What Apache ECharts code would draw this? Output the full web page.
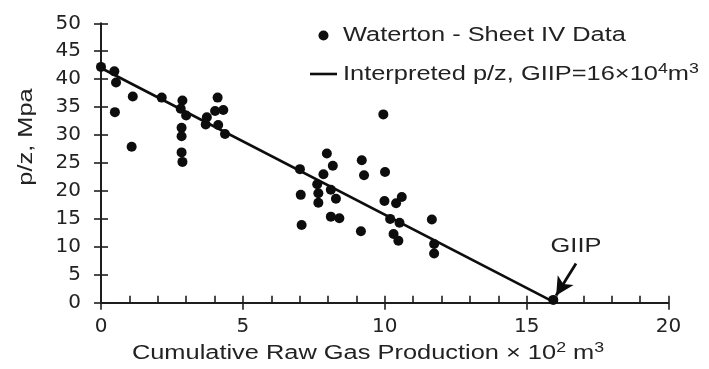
<!DOCTYPE html>
<html>
<head>
<meta charset="utf-8">
<script src="https://cdn.jsdelivr.net/npm/echarts@6/dist/echarts.min.js"></script>
<style>
  html, body { margin: 0; padding: 0; background: #fff; }
  #chart { width: 709px; height: 369px; }
</style>
</head>
<body>
<div id="chart"></div>
<script>
// Waterton Sheet IV measurements: cumulative raw gas production (x 10^2 m^3) and p/z (MPa)
const production = [
  0.00, 0.47, 0.53, 0.49, 1.12, 1.08, 2.14, 2.87, 2.81, 3.00,
  2.84, 2.84, 2.84, 2.87, 3.73, 3.69, 4.11, 4.02, 4.31, 4.13,
  4.37, 7.01, 7.04, 7.07, 9.95, 7.96, 8.17, 7.84, 9.19, 9.27,
  10.01, 7.62, 7.66, 7.66, 8.10, 8.28, 8.10, 8.40, 9.16, 9.99,
  10.40, 10.60, 10.19, 10.52, 10.31, 10.48, 11.66, 11.74, 11.74, 15.94
];
const pressure = [
  42.2, 41.4, 39.4, 34.1, 36.9, 27.9, 36.7, 36.2, 34.7, 33.5,
  31.3, 29.8, 26.9, 25.2, 33.2, 31.9, 36.7, 34.3, 34.5, 31.8,
  30.2, 23.9, 19.3, 13.9, 33.7, 26.7, 24.5, 23.0, 25.5, 22.8,
  23.4, 21.2, 19.6, 17.9, 20.2, 18.6, 15.4, 15.1, 12.8, 18.2,
  17.8, 18.9, 15.0, 14.3, 12.3, 11.1, 14.9, 10.5, 8.8, 0.5
];

// Interpreted straight-line p/z trend, reaching zero at GIIP = 16
const trendX = [0, 16];
const trendY = [42, 0];

// GIIP call-out: label anchor and arrow (start, tip) in data units
const giipLabel = [16.74, 10.0];
const giipArrow = [[16.74, 7.0], [16.04, 1.3]];

// Axis ranges
const xRange = { min: 0, max: 20, interval: 5 };
const yRange = { min: 0, max: 50, interval: 5 };

const seriesNames = ['Waterton - Sheet IV Data', 'Interpreted p/z'];

const TICK_FONT = 'DejaVu Sans';
const TEXT_FONT = 'Liberation Sans';
const WIDE = 1.27;            // horizontal stretch of the wide caption lettering
const INK = '#222';
const MARK = '#0d0d0d';
const AXIS = '#1e1e1e';

const points = production.map((x, i) => [x, pressure[i]]);
const trend = trendX.map((x, i) => [x, trendY[i]]);

const chart = echarts.init(document.getElementById('chart'), null, { renderer: 'canvas' });

const baseAxis = {
  type: 'value',
  splitLine: { show: false },
  axisLine: { show: true, onZero: false, lineStyle: { color: AXIS, width: 2 } }
};

const richText = {
  n: { fontFamily: TEXT_FONT, fontSize: 20, fill: INK, lineHeight: 24 },
  sup: { fontFamily: TEXT_FONT, fontSize: 14, fill: INK, lineHeight: 24, verticalAlign: 'top' }
};

function caption(id, x, y, text, align, extra) {
  return Object.assign({
    type: 'text', id: id, x: x, y: y, scaleX: WIDE, z: 10,
    style: {
      text: text, fill: INK, align: align, verticalAlign: 'middle',
      font: '20px "' + TEXT_FONT + '"', rich: richText
    }
  }, extra || {});
}

chart.setOption({
  animation: false,
  backgroundColor: '#fff',
  textStyle: { fontFamily: TICK_FONT, color: INK },
  grid: { left: 101, right: 40.5, top: 23.3, bottom: 66.3, containLabel: false },
  xAxis: [
    Object.assign({}, baseAxis, {
      min: xRange.min, max: xRange.max, interval: xRange.interval,
      axisTick: { show: true, inside: true, length: 7, lineStyle: { color: AXIS, width: 1.6 } },
      minorTick: { show: true, splitNumber: 5, length: 7, lineStyle: { color: AXIS, width: 1.6 } },
      axisLabel: { margin: 14, fontFamily: TICK_FONT, fontSize: 20, color: INK }
    }),
    Object.assign({}, baseAxis, {
      position: 'bottom',
      min: xRange.min, max: xRange.max, interval: xRange.interval,
      axisLine: { show: false, onZero: false },
      axisTick: { show: true, inside: false, length: 7, lineStyle: { color: AXIS, width: 1.6 } },
      axisLabel: { show: false }
    })
  ],
  yAxis: [
    Object.assign({}, baseAxis, {
      min: yRange.min, max: yRange.max, interval: yRange.interval,
      axisTick: { show: true, inside: true, length: 7, lineStyle: { color: AXIS, width: 1.6 } },
      axisLabel: { margin: 20, fontFamily: TICK_FONT, fontSize: 20, color: INK }
    }),
    Object.assign({}, baseAxis, {
      position: 'left',
      min: yRange.min, max: yRange.max, interval: yRange.interval,
      axisLine: { show: false, onZero: false },
      axisTick: { show: true, inside: false, length: 7, lineStyle: { color: AXIS, width: 1.6 } },
      axisLabel: { show: false }
    })
  ],
  series: [
    {
      name: seriesNames[0],
      type: 'scatter',
      data: points,
      symbol: 'circle',
      symbolSize: 10,
      itemStyle: { color: MARK, opacity: 1 },
      z: 4
    },
    {
      name: seriesNames[1],
      type: 'line',
      data: trend,
      symbol: 'none',
      lineStyle: { color: MARK, width: 2.6 },
      z: 3,
      markLine: {
        silent: true,
        symbol: ['none', 'arrow'],
        symbolSize: [14, 18],
        label: { show: false },
        lineStyle: { type: 'solid', color: MARK, width: 2.8 },
        data: [[{ coord: giipArrow[0] }, { coord: giipArrow[1] }]]
      }
    }
  ],
  graphic: [
    // legend
    { type: 'circle', id: 'legDot', shape: { cx: 323.5, cy: 35.5, r: 5 }, style: { fill: MARK } },
    caption('legText1', 343, 35.5, '{n|' + seriesNames[0] + '}', 'left'),
    { type: 'line', id: 'legLine', shape: { x1: 310, y1: 74, x2: 337, y2: 74 },
      style: { stroke: MARK, lineWidth: 2.6 } },
    caption('legText2', 343, 74.5, '{n|Interpreted p/z, GIIP=16×10}{sup|4}{n|m}{sup|3}', 'left'),
    // axis titles
    caption('yTitle', 26, 137, '{n|p/z, Mpa}', 'center', { rotation: Math.PI / 2 }),
    caption('xTitle', 368, 353, '{n|Cumulative Raw Gas Production × 10}{sup|2}{n| m}{sup|3}', 'center')
  ]
});

// GIIP label placed at its data-space anchor
const giipPx = chart.convertToPixel({ xAxisIndex: 0, yAxisIndex: 0 }, giipLabel);
chart.setOption({
  graphic: [caption('giipText', giipPx[0], giipPx[1], '{n|GIIP}', 'center')]
});
</script>
</body>
</html>
